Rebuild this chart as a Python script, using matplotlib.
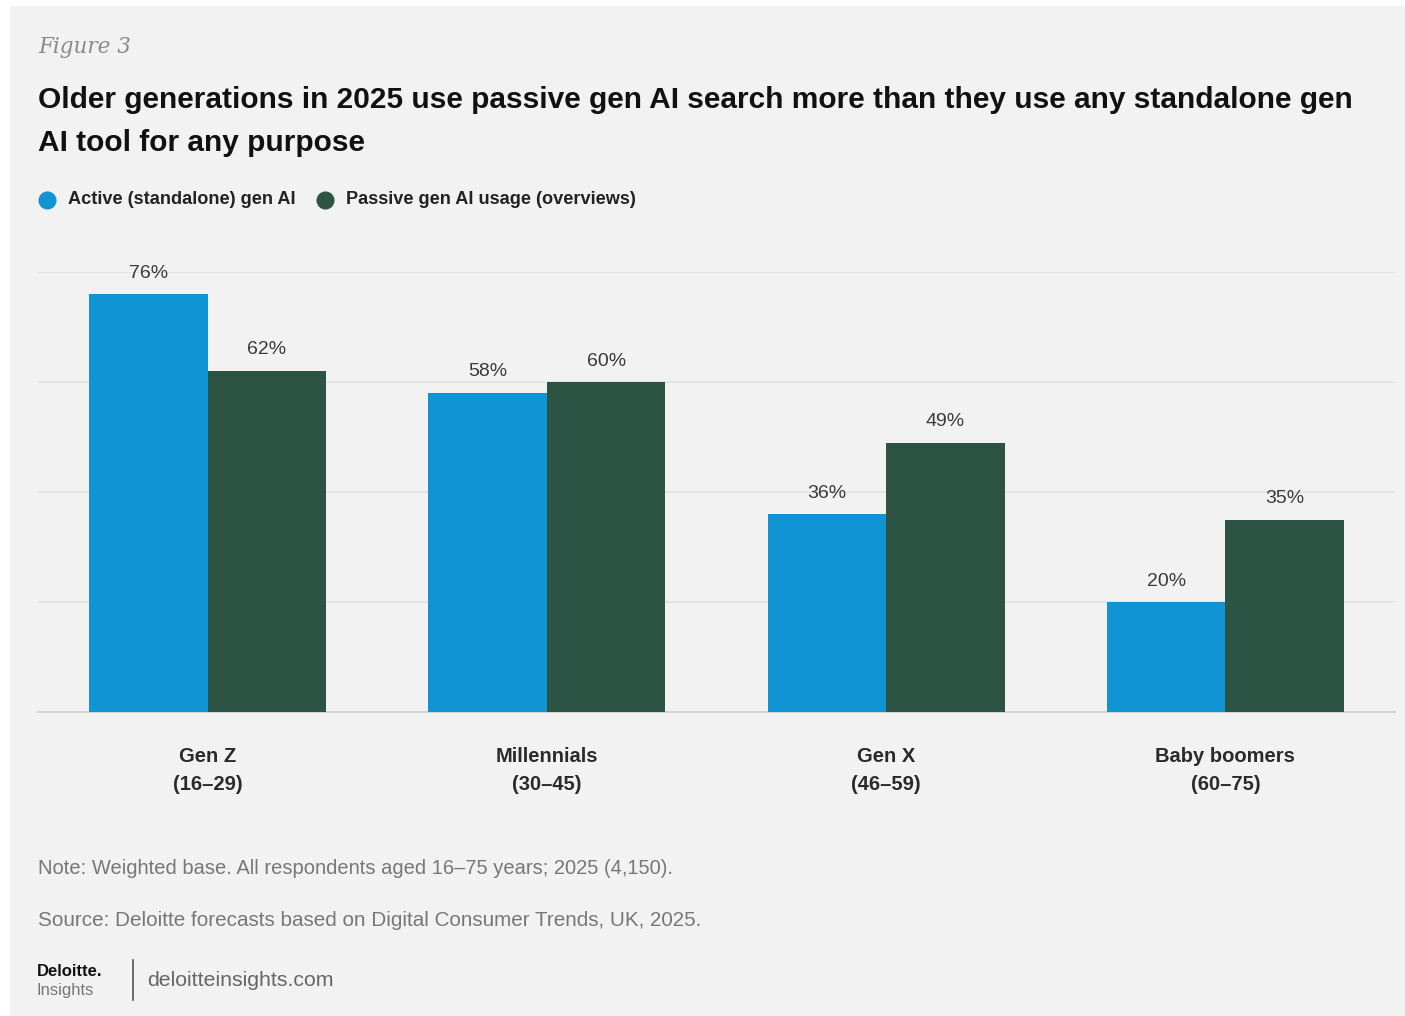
import matplotlib.pyplot as plt
from matplotlib.patches import Rectangle
from matplotlib.lines import Line2D
import numpy as np

plt.rcParams['font.family'] = ['Liberation Sans', 'DejaVu Sans']

groups = ['Gen Z\n(16–29)', 'Millennials\n(30–45)', 'Gen X\n(46–59)', 'Baby boomers\n(60–75)']
active = [76, 58, 36, 20]
passive = [62, 60, 49, 35]
series_names = ['Active (standalone) gen AI', 'Passive gen AI usage (overviews)']
blue = '#1094d4'
green = '#2c5344'
bg = '#f2f2f2'

W, H = 1405, 1016
fig = plt.figure(figsize=(W / 100, H / 100), dpi=100)
fig.patch.set_facecolor('white')
fig.patches.append(Rectangle((10 / W, 0), 1, 1 - 6 / H, transform=fig.transFigure,
                             facecolor=bg, edgecolor='none', zorder=-10))

ax = fig.add_axes([38 / W, 1 - 712 / H, (1395 - 38) / W, (712 - 272) / H])
ax.set_facecolor('none')
x = np.arange(len(groups))
bw = 0.349
b1 = ax.bar(x - bw / 2, active, bw, color=blue, zorder=3)
b2 = ax.bar(x + bw / 2, passive, bw, color=green, zorder=3)
for bars, vals in [(b1, active), (b2, passive)]:
    for b, v in zip(bars, vals):
        ax.annotate(f'{v}%', (b.get_x() + b.get_width() / 2, v), xytext=(0, 9),
                    textcoords='offset points', ha='center', va='bottom',
                    fontsize=14, color='#3a3a3a')

ax.set_xlim(-0.5, 3.5)
ax.set_ylim(0, 80)
ax.set_yticks([0, 20, 40, 60, 80])
ax.yaxis.grid(True, color='#e2e2e2', linewidth=1.2, zorder=0)
ax.tick_params(axis='y', length=0, labelleft=False)
ax.tick_params(axis='x', length=0, pad=25)
ax.set_xticks(x)
ax.set_xticklabels(groups, fontsize=14.5, fontweight='bold', color='#2a2a2a', linespacing=1.65)
for s in ['top', 'right', 'left']:
    ax.spines[s].set_visible(False)
ax.spines['bottom'].set_color('#cfcfcf')
ax.spines['bottom'].set_linewidth(1.2)

fig.text(38 / W, 1 - 47 / H, 'Figure 3', family='DejaVu Serif', style='italic',
         fontsize=15.5, color='#8a8a8a', va='center')
fig.text(38 / W, 1 - 100 / H,
         'Older generations in 2025 use passive gen AI search more than they use any standalone gen',
         fontsize=21.5, fontweight='bold', color='#111111', va='center')
fig.text(38 / W, 1 - 143 / H, 'AI tool for any purpose',
         fontsize=21.5, fontweight='bold', color='#111111', va='center')

# legend
for cx, tx, col, name in [(47, 68, blue, series_names[0]), (325, 346, green, series_names[1])]:
    fig.add_artist(Line2D([cx / W], [1 - 200 / H], transform=fig.transFigure, marker='o',
                          markersize=12, color=col, linestyle='none'))
    fig.text(tx / W, 1 - 200 / H, name, fontsize=13.1, fontweight='bold',
             color='#222222', va='center')

fig.text(38 / W, 1 - 868 / H,
         'Note: Weighted base. All respondents aged 16–75 years; 2025 (4,150).',
         fontsize=14.5, color='#777777', va='center')
fig.text(38 / W, 1 - 920 / H,
         'Source: Deloitte forecasts based on Digital Consumer Trends, UK, 2025.',
         fontsize=14.9, color='#777777', va='center')

fig.text(37 / W, 1 - 971 / H, 'Deloitte.', fontsize=12, fontweight='bold',
         color='#111111', va='center')
fig.text(37 / W, 1 - 990 / H, 'Insights', fontsize=12, color='#777777', va='center')
fig.add_artist(Line2D([133 / W, 133 / W], [1 - 960 / H, 1 - 1000 / H],
                      transform=fig.transFigure, color='#555555', linewidth=1.2))
fig.text(147 / W, 1 - 981 / H, 'deloitteinsights.com', fontsize=15.3,
         color='#666666', va='center')

fig.savefig('out.png', dpi=100, facecolor=fig.get_facecolor())
